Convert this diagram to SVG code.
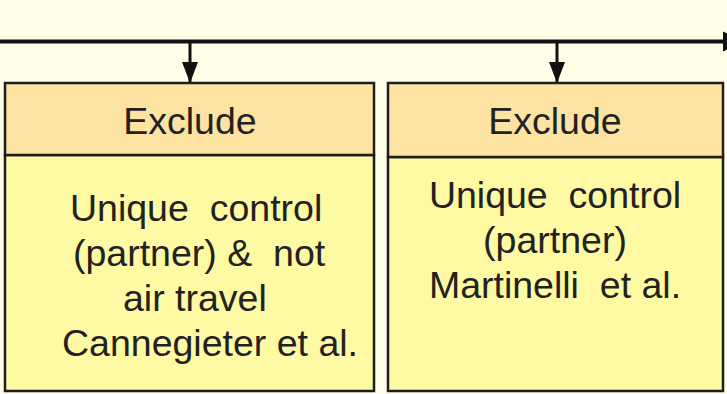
<svg xmlns="http://www.w3.org/2000/svg" width="727" height="394" viewBox="0 0 727 394">
  <style>
    .bg { fill: #FFFEE9; }
    .hdr { fill: #FDE3A1; stroke: #1e1e1e; stroke-width: 2.5; }
    .body { fill: #FEF9A3; stroke: #1e1e1e; stroke-width: 2.5; }
    .t { font-family: "Liberation Sans", Arial, sans-serif; font-size: 37.5px; fill: #222; }
    .c { text-anchor: middle; }
    .conn { stroke: #111; fill: none; }
  </style>
  <defs>
    <marker id="ah" markerUnits="userSpaceOnUse" markerWidth="22" markerHeight="18" refX="21" refY="9" orient="auto">
      <path d="M0,1 L21,9 L0,17 Z" fill="#111"/>
    </marker>
    <marker id="ahR" markerUnits="userSpaceOnUse" markerWidth="24" markerHeight="22" refX="0" refY="11" orient="auto">
      <path d="M0,1 L22,11 L0,21 Z" fill="#111"/>
    </marker>
  </defs>
  <rect class="bg" x="0" y="0" width="727" height="394"/>

  <g id="connectors">
    <line class="conn" x1="0" y1="41.5" x2="723" y2="41.5" stroke-width="4" marker-end="url(#ahR)"/>
    <line class="conn" x1="190" y1="42" x2="190" y2="83" stroke-width="3" marker-end="url(#ah)"/>
    <line class="conn" x1="557" y1="42" x2="557" y2="83" stroke-width="3" marker-end="url(#ah)"/>
  </g>

  <g id="node-left">
    <rect class="body" x="5" y="155" width="369" height="236"/>
    <rect class="hdr" x="5" y="83" width="369" height="72"/>
    <text class="t c" x="190" y="134">Exclude</text>
    <text class="t" x="70" y="221" xml:space="preserve">Unique  control</text>
    <text class="t" x="73" y="266" xml:space="preserve">(partner) &amp;  not</text>
    <text class="t" x="123" y="311">air travel</text>
    <text class="t" x="62" y="356">Cannegieter et al.</text>
  </g>

  <g id="node-right">
    <rect class="body" x="388" y="157" width="335" height="234"/>
    <rect class="hdr" x="388" y="83" width="335" height="74"/>
    <text class="t c" x="555" y="134">Exclude</text>
    <text class="t c" x="555" y="208" xml:space="preserve">Unique  control</text>
    <text class="t c" x="555" y="253">(partner)</text>
    <text class="t c" x="555" y="298" xml:space="preserve">Martinelli  et al.</text>
  </g>
</svg>
